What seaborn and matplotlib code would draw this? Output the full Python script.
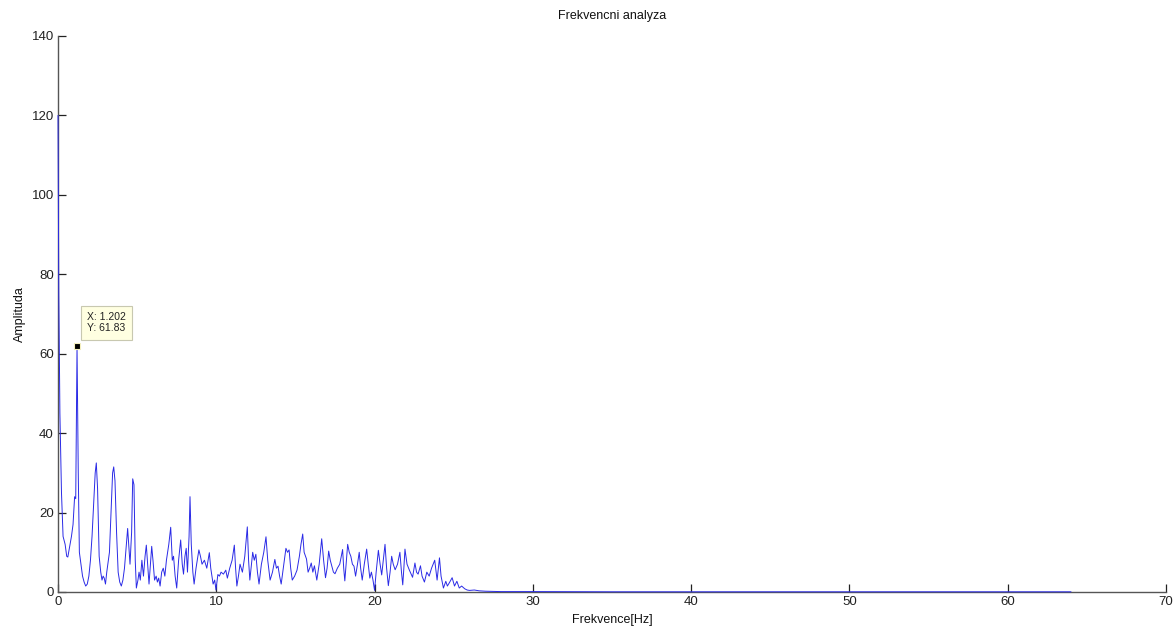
import matplotlib
matplotlib.use("Agg")
import matplotlib.pyplot as plt
import seaborn as sns
import pandas as pd

# ---- data ----
freq = [0.00, 0.05, 0.12, 0.22, 0.32, 0.45, 0.55, 0.62, 0.72, 0.85, 0.95, 1.05, 1.12, 1.202, 1.28, 1.35,
        1.45, 1.55, 1.65, 1.75, 1.85, 1.95, 2.05, 2.15, 2.25, 2.35, 2.42, 2.50, 2.60, 2.70, 2.78, 2.85,
        2.92, 3.00, 3.08, 3.15, 3.25, 3.35, 3.45, 3.52, 3.60, 3.70, 3.80, 3.90, 4.00, 4.10, 4.20, 4.30,
        4.40, 4.50, 4.55, 4.65, 4.72, 4.80, 4.88, 4.95, 5.05, 5.12, 5.20, 5.30, 5.40, 5.50, 5.58, 5.66,
        5.75, 5.82, 5.92, 6.00, 6.10, 6.20, 6.28, 6.36, 6.45, 6.55, 6.65, 6.75, 6.85, 7.00, 7.12, 7.22,
        7.30, 7.40, 7.50, 7.62, 7.75, 7.85, 7.93, 8.02, 8.10, 8.18, 8.28, 8.34, 8.42, 8.52, 8.60, 8.72,
        8.90, 9.00, 9.10, 9.25, 9.40, 9.56, 9.65, 9.80, 9.90, 9.98, 10.10, 10.20, 10.30, 10.45, 10.60,
        10.70, 10.85, 11.00, 11.14, 11.22, 11.30, 11.40, 11.50, 11.65, 11.80, 11.96, 12.04, 12.12, 12.22,
        12.30, 12.40, 12.50, 12.60, 12.70, 12.85, 13.00, 13.14, 13.25, 13.40, 13.55, 13.70, 13.80, 13.90,
        14.00, 14.10, 14.20, 14.30, 14.40, 14.50, 14.60, 14.70, 14.80, 14.95, 15.10, 15.25, 15.35, 15.46,
        15.55, 15.70, 15.80, 15.90, 16.00, 16.10, 16.20, 16.35, 16.50, 16.66, 16.78, 16.90, 17.00, 17.10,
        17.20, 17.30, 17.40, 17.50, 17.65, 17.80, 17.98, 18.05, 18.12, 18.22, 18.30, 18.40, 18.50, 18.60,
        18.70, 18.80, 18.92, 19.03, 19.12, 19.22, 19.35, 19.50, 19.60, 19.70, 19.80, 19.90, 20.00, 20.10,
        20.24, 20.35, 20.45, 20.55, 20.66, 20.76, 20.87, 20.98, 21.08, 21.18, 21.30, 21.45, 21.60, 21.70,
        21.78, 21.85, 21.92, 22.05, 22.20, 22.40, 22.55, 22.65, 22.75, 22.90, 23.00, 23.15, 23.30, 23.45,
        23.60, 23.80, 23.95, 24.10, 24.20, 24.35, 24.50, 24.60, 24.75, 24.90, 25.05, 25.20, 25.35, 25.50,
        25.70, 25.85, 26.00, 26.30, 26.60, 27.00, 28.0, 30.0, 35.0, 40.0, 50.0, 64.0]
amplitude = [120, 75, 45, 25, 14, 12, 9, 8.8, 11, 14, 17, 24, 23.5, 61.83, 30, 10,
             7, 4, 2.5, 1.5, 2, 4, 8, 14, 22, 30, 32.5, 26, 9, 5, 3, 4,
             3.5, 2, 5, 7, 10, 20, 30, 31.5, 28, 15, 5, 2.5, 1.5, 3, 6, 11,
             16, 10, 7, 15, 28.5, 27, 8, 1, 3, 5, 3, 8, 4, 9, 11.8, 7,
             2, 6, 11.5, 8, 3, 4, 2.5, 3.5, 1.5, 5, 6, 4, 8, 12, 16.3, 8,
             9, 4, 1, 8, 13.1, 7, 4.5, 9, 11, 5, 14, 24, 12, 5, 2, 6,
             10.6, 9, 7, 8, 6, 9.9, 6, 2, 3, 0.5, 4.4, 4, 5, 4.5, 5.5,
             3.5, 6, 8, 11.8, 6, 1.5, 4, 7, 5, 9, 16.4, 8, 3, 7,
             10, 8, 9.5, 5, 2, 7, 10, 13.9, 8, 3, 5, 8.2, 6, 6.5,
             4, 2, 5, 8, 11, 10, 10.6, 6, 3, 4, 5.5, 9, 12, 14.6,
             10, 8.3, 5, 6, 7.3, 5, 6.6, 3, 7, 13.4, 8, 3.6, 6, 10.3,
             8, 6.5, 5, 4.6, 6, 7, 10.7, 6, 2.8, 8, 12, 10, 9, 7,
             6.5, 4, 7, 10, 6, 3, 7, 10.8, 7, 3.5, 5, 3, 0.4, 5,
             10.5, 7, 4.3, 8, 12, 6, 1.6, 5, 9, 7, 5.6, 7, 10, 5,
             1.8, 6, 10.8, 7, 5.5, 3.7, 7.3, 5, 4.5, 6.6, 4, 2.5, 5, 4,
             6, 8, 3, 8.6, 4, 1, 2.7, 1.5, 2.5, 3.6, 1.5, 2.7, 1.0, 1.5,
             0.8, 0.5, 0.4, 0.5, 0.3, 0.2, 0.1, 0.1, 0.05, 0.05, 0.05, 0.05]
x_ticks = [0, 10, 20, 30, 40, 50, 60, 70]
y_ticks = [0, 20, 40, 60, 80, 100, 120, 140]
tip_x, tip_y = 1.202, 61.83

df = pd.DataFrame({"Frekvence": freq, "Amplituda": amplitude})

sns.set_theme(style="ticks")
plt.rcParams["font.family"] = ["Liberation Sans", "DejaVu Sans"]

fig = plt.figure(figsize=(11.76, 6.27), dpi=100)
ax = fig.add_axes([58 / 1176, 1 - 592 / 627, (1166 - 58) / 1176, (592 - 36) / 627])

sns.lineplot(data=df, x="Frekvence", y="Amplituda", ax=ax, color="#2a2ae6",
             linewidth=0.7, estimator=None, sort=False, zorder=3, clip_on=False)

ax.set_xlim(0, 70)
ax.set_ylim(0, 140)
ax.set_xticks(x_ticks)
ax.set_yticks(y_ticks)
ax.tick_params(direction="in", length=6, width=0.9, labelsize=9.5, colors="#222222", pad=3)
for s in ["top", "right"]:
    ax.spines[s].set_visible(False)
for s in ["left", "bottom"]:
    ax.spines[s].set_color("#555555")
    ax.spines[s].set_linewidth(1.0)

ax.set_title("Frekvencni analyza", fontsize=9, pad=12, color="#111111")
ax.set_xlabel("Frekvence[Hz]", fontsize=9, labelpad=4, color="#111111")
ax.set_ylabel("Amplituda", fontsize=9, labelpad=4, color="#111111")

# data tip
ax.plot([tip_x], [tip_y], marker="s", markersize=5, color="black",
        markeredgecolor="#f5f0c0", markeredgewidth=0.8, zorder=5)
ax.annotate(f"X: {tip_x}\nY: {tip_y}", xy=(tip_x, tip_y), xytext=(21, 17),
            textcoords="offset points", ha="center", va="center", fontsize=7.5,
            color="#222222", linespacing=1.15,
            bbox=dict(boxstyle="square,pad=0.6", fc="#ffffe1", ec="#c8c8b0", lw=0.8),
            zorder=6)

fig.savefig("out.png", dpi=100)
